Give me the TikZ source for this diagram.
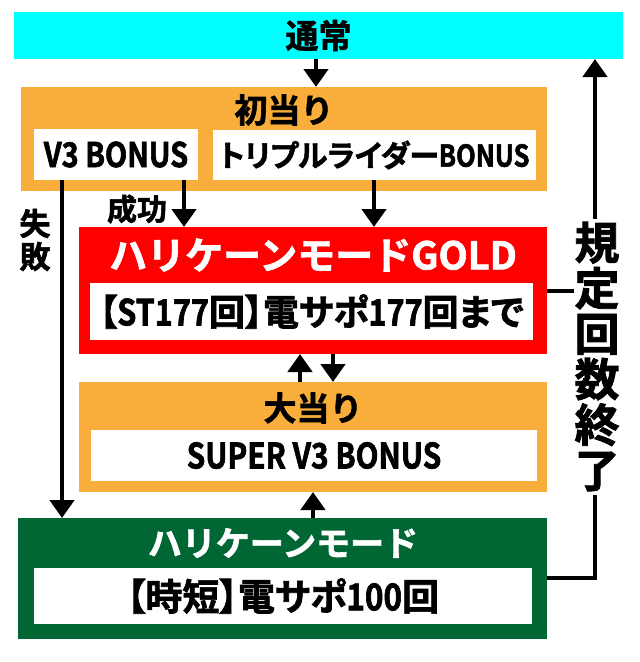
\documentclass[tikz,border=0pt]{standalone}
\usepackage{fontspec}
\setmainfont{Noto Sans CJK JP Bold}[FakeBold=1.8]
\newfontfamily\lat{Noto Sans CJK JP Bold}[FakeStretch=0.85, FakeBold=1.8]
\usetikzlibrary{arrows.meta}
\definecolor{normalcyan}{RGB}{0,255,255}
\definecolor{hitorange}{RGB}{249,174,59}
\definecolor{goldred}{RGB}{255,0,0}
\definecolor{modegreen}{RGB}{0,102,51}
\begin{document}
\begin{tikzpicture}[x=1pt, y=-1pt,
    box/.style = {rectangle, inner sep=0, outer sep=0},
    txt/.style = {font=\fontsize{33}{40}\selectfont, inner sep=0},
    tight/.style = {font=\fontsize{#1}{40}\selectfont\addfontfeature{RawFeature=+palt}},
    link/.style = {line width=4.5pt, -{Triangle[length=18pt, width=24pt]}},
    wire/.style = {line width=4.5pt}]
    \useasboundingbox (0,0) rectangle (640,662);
    % boxes
    \node[box, fill=normalcyan, minimum width=609pt, minimum height=47pt, txt] (normal) at (318.5,35.5) {通常};
    \node[box, fill=hitorange, minimum width=526pt, minimum height=104pt] (first) at (284,139) {};
    \node[txt] (firsttitle) at (284,110) {初当り};
    \node[box, fill=white, minimum width=164pt, minimum height=51pt, txt, font=\fontsize{34}{40}\lat] (v3) at (116,154.5) {V3 BONUS};
    \node[box, fill=white, minimum width=323pt, minimum height=50pt, txt, tight=30] (triple) at (374.5,155) {トリプルライダー{\lat BONUS}};
    \node[box, fill=goldred, minimum width=468pt, minimum height=127pt] (gold) at (313,290.5) {};
    \node[txt, text=white, font=\fontsize{38}{40}\selectfont] (goldtitle) at (313,255) {ハリケーンモードGOLD};
    \node[box, fill=white, minimum width=443pt, minimum height=57pt, txt, tight=36] (goldst) at (311.5,311.5) {【{\lat ST177}回】電サポ{\lat 177}回まで};
    \node[box, fill=hitorange, minimum width=468pt, minimum height=110pt] (big) at (313,437) {};
    \node[txt] (bigtitle) at (313,408) {大当り};
    \node[box, fill=white, minimum width=446pt, minimum height=51pt, txt, font=\fontsize{35}{40}\lat] (super) at (314,455.5) {SUPER V3 BONUS};
    \node[box, fill=modegreen, minimum width=529pt, minimum height=121pt] (mode) at (282.5,578.5) {};
    \node[txt, text=white, font=\fontsize{34}{40}\selectfont] (modetitle) at (283,543) {ハリケーンモード};
    \node[box, fill=white, minimum width=498pt, minimum height=56pt, txt, tight=37] (modejt) at (283,596) {【時短】電サポ{\lat 100}回};
    % labels
    \node[font=\fontsize{30}{32}\selectfont, inner sep=0] (success) at (137,209) {成功};
    \node[font=\fontsize{31}{33}\selectfont, inner sep=0, align=center] (fail) at (35,240) {失\\敗};
    \node[font=\fontsize{45}{45.5}\selectfont, inner sep=0, align=center] (limit) at (597,356.5) {規\\定\\回\\数\\終\\了};
    % connectors
    \draw[link] (normal.south -| 316,0) -- (first.north -| 316,0);
    \draw[link] (v3.south -| 184,0) -- (gold.north -| 184,0);
    \draw[link] (triple.south -| 374,0) -- (gold.north -| 374,0);
    \draw[link] (v3.south -| 62,0) -- (mode.north -| 62,0);
    \draw[link] (big.north -| 300,0) -- (gold.south -| 300,0);
    \draw[link] (gold.south -| 333,0) -- (big.north -| 333,0);
    \draw[link] (mode.north -| 313,0) -- (big.south -| 313,0);
    \draw[wire] (gold.east |- 0,291) -- (limit.west |- 0,291);
    \draw[wire] (mode.east |- 0,578) -| ([yshift=-4pt]limit.south -| 595,0);
    \draw[link] ([yshift=3pt]limit.north -| 595,0) -- (normal.south -| 595,0);
\end{tikzpicture}
\end{document}
